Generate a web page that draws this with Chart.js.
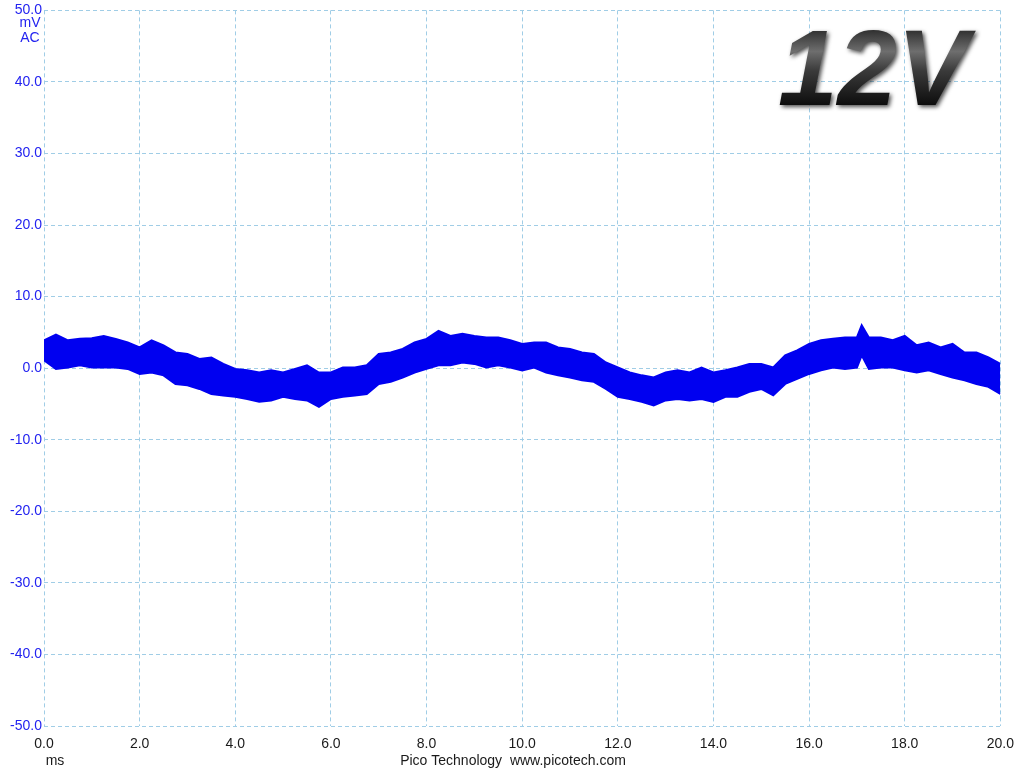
<!DOCTYPE html>
<html>
<head>
<meta charset="utf-8">
<script src="https://cdn.jsdelivr.net/npm/chart.js@4.4.1/dist/chart.umd.min.js"></script>
<style>
  html, body { margin: 0; padding: 0; background: #fff; }
  #wrap { width: 1024px; height: 768px; position: relative; }
</style>
</head>
<body>
<div id="wrap"><canvas id="scope"></canvas></div>
<script>
// time (ms) and envelope of the noisy trace (mV)
const times = [0, 0.25, 0.5, 0.75, 1.0, 1.25, 1.5, 1.75, 2.0, 2.25, 2.5, 2.75, 3.0, 3.25, 3.5, 3.75,
  4.0, 4.25, 4.5, 4.75, 5.0, 5.25, 5.5, 5.75, 6.0, 6.25, 6.5, 6.75, 7.0, 7.25, 7.5, 7.75,
  8.0, 8.25, 8.5, 8.75, 9.0, 9.25, 9.5, 9.75, 10.0, 10.25, 10.5, 10.75, 11.0, 11.25, 11.5, 11.75,
  12.0, 12.25, 12.5, 12.75, 13.0, 13.25, 13.5, 13.75, 14.0, 14.25, 14.5, 14.75, 15.0, 15.25, 15.5, 15.75,
  16.0, 16.25, 16.5, 16.75, 17.0, 17.1, 17.25, 17.5, 17.75, 18.0, 18.25, 18.5, 18.75, 19.0, 19.25, 19.5, 19.75, 20.0];
const upperMv = [3.9, 4.7, 3.9, 4.1, 4.2, 4.5, 4.1, 3.6, 2.9, 3.9, 3.2, 2.2, 2.0, 1.3, 1.5, 0.6,
  -0.1, -0.3, -0.6, -0.3, -0.6, -0.1, 0.4, -0.6, -0.6, 0.1, 0.1, 0.4, 2.0, 2.2, 2.7, 3.6,
  4.1, 5.2, 4.5, 4.8, 4.5, 4.3, 4.3, 3.9, 3.4, 3.6, 3.6, 2.9, 2.7, 2.2, 2.0, 0.8,
  0.1, -0.6, -1.0, -1.3, -0.6, -0.3, -0.6, 0.1, -0.6, -0.3, 0.1, 0.6, 0.6, 0.1, 1.8, 2.5,
  3.4, 3.9, 4.1, 4.3, 4.3, 6.0, 4.3, 4.3, 3.9, 4.5, 3.2, 3.6, 2.9, 3.4, 2.2, 2.2, 1.5, 0.6];
const lowerMv = [1.1, -0.1, 0.1, 0.4, 0.1, 0.1, 0.1, -0.1, -0.8, -0.6, -1.0, -2.2, -2.4, -2.9, -3.6, -3.8,
  -4.0, -4.3, -4.7, -4.5, -4.0, -4.3, -4.5, -5.4, -4.3, -4.0, -3.8, -3.6, -2.2, -1.9, -1.3, -0.6,
  -0.1, 0.4, 0.4, 0.8, 0.6, 0.1, 0.4, 0.1, -0.3, 0.1, -0.6, -1.0, -1.3, -1.7, -1.9, -2.9,
  -4.0, -4.3, -4.7, -5.2, -4.5, -4.3, -4.5, -4.3, -4.7, -4.0, -4.0, -3.3, -2.9, -3.8, -2.2, -1.5,
  -0.8, -0.3, 0.1, -0.1, 0.1, 1.8, -0.1, 0.1, 0.1, -0.3, -0.6, -0.3, -0.8, -1.3, -1.7, -2.2, -2.6, -3.6];

const TRACE = 'rgb(0, 0, 240)';
const GRID = 'rgb(160, 205, 230)';
const AXIS_BLUE = 'rgb(35, 35, 240)';

const overlayText = {
    id: 'overlayText',
    afterDraw(chart) {
        const ctx = chart.ctx;
        ctx.save();
        // units under the top y label
        ctx.fillStyle = AXIS_BLUE;
        ctx.font = '14px "Liberation Sans", Arial, sans-serif';
        ctx.textAlign = 'center';
        ctx.textBaseline = 'middle';
        ctx.fillText('mV', 30, 23);
        ctx.fillText('AC', 30, 38);
        // x units and footer
        ctx.fillStyle = '#1a1a1a';
        ctx.fillText('ms', 55, 761);
        ctx.fillText('Pico Technology  www.picotech.com', 513, 761);
        // big 12V label
        ctx.font = 'italic bold 107px "Liberation Sans", Arial, sans-serif';
        ctx.textAlign = 'left';
        ctx.textBaseline = 'alphabetic';
        ctx.shadowColor = 'rgba(0,0,0,0.7)';
        ctx.shadowBlur = 4;
        ctx.shadowOffsetX = 2;
        ctx.shadowOffsetY = 2;
        const g = ctx.createLinearGradient(0, 28, 0, 106);
        g.addColorStop(0, '#2a2a2a');
        g.addColorStop(0.3, '#6e6e6e');
        g.addColorStop(0.55, '#3a3a3a');
        g.addColorStop(1, '#0c0c0c');
        ctx.fillStyle = g;
        ctx.fillText('12V', 778, 105);
        ctx.restore();
    }
};

const upperPts = times.map((t, i) => ({ x: t, y: upperMv[i] }));
const lowerPts = times.map((t, i) => ({ x: t, y: lowerMv[i] }));

new Chart(document.getElementById('scope'), {
    type: 'line',
    data: {
        datasets: [
            {
                label: 'max',
                data: upperPts,
                borderColor: TRACE,
                backgroundColor: TRACE,
                borderWidth: 2,
                pointRadius: 0,
                tension: 0,
                fill: '+1'
            },
            {
                label: 'min',
                data: lowerPts,
                borderColor: TRACE,
                backgroundColor: TRACE,
                borderWidth: 2,
                pointRadius: 0,
                tension: 0,
                fill: false
            }
        ]
    },
    options: {
        responsive: true,
        maintainAspectRatio: false,
        animation: false,
        layout: { padding: { top: 4, right: 23, left: 0, bottom: 0 } },
        scales: {
            x: {
                type: 'linear',
                min: 0,
                max: 20,
                border: { display: false, dash: [4, 3] },
                grid: { color: GRID, lineWidth: 1, drawTicks: false },
                ticks: {
                    stepSize: 2,
                    padding: 10,
                    color: '#1a1a1a',
                    font: { family: '"Liberation Sans", Arial, sans-serif', size: 14 },
                    maxRotation: 0,
                    callback: v => v.toFixed(1)
                },
                afterFit(scale) { scale.height = 42; }
            },
            y: {
                min: -50,
                max: 50,
                border: { display: false, dash: [4, 3] },
                grid: { color: GRID, lineWidth: 1, drawTicks: false },
                ticks: {
                    stepSize: 10,
                    padding: 2,
                    color: AXIS_BLUE,
                    font: { family: '"Liberation Sans", Arial, sans-serif', size: 14 },
                    callback: v => v.toFixed(1)
                },
                afterFit(scale) { scale.width = 44; }
            }
        },
        plugins: {
            legend: { display: false },
            tooltip: { enabled: false }
        }
    },
    plugins: [overlayText]
});
</script>
</body>
</html>
